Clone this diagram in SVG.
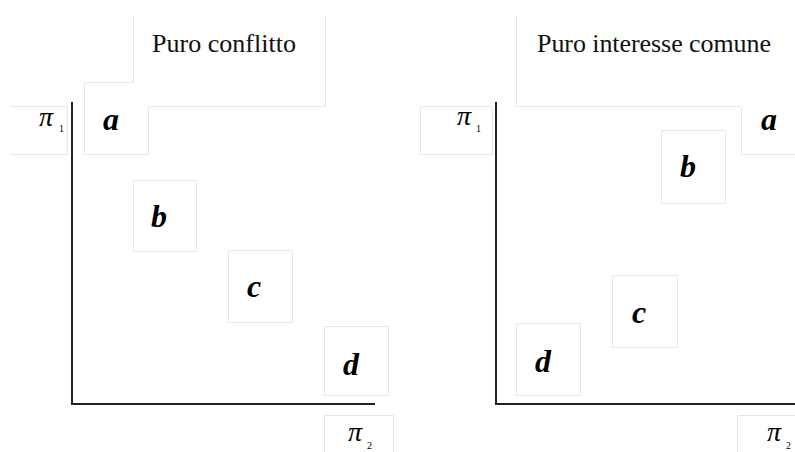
<svg xmlns="http://www.w3.org/2000/svg" width="795" height="452" viewBox="0 0 795 452">
<style>
.frame{fill:none;stroke:#e6e6e6;stroke-width:1}
.axis{fill:none;stroke:#222;stroke-width:2}
.title{font-family:"Liberation Serif","Times New Roman",serif;font-size:26px;fill:#111}
.pt{font-family:"Liberation Serif","Times New Roman",serif;font-size:32px;font-weight:bold;font-style:italic;fill:#000}
.pi{font-family:"Liberation Serif","Times New Roman",serif;font-size:28px;font-style:italic;fill:#000}
.sub{font-family:"Liberation Serif","Times New Roman",serif;font-size:10px;fill:#000}
</style>
<rect width="795" height="452" fill="#fff"/>

<!-- Left chart -->
<g id="title-left">
<path class="frame" d="M133.5,16 V82.5 M148.5,106.5 H325.5 V16"/>
<text class="title" x="152" y="52" textLength="144">Puro conflitto</text>
</g>
<g id="pi1-left">
<path class="frame" d="M10,106.5 H67.5 V154.5 H10"/>
<text class="pi" x="39" y="126">π</text>
<text class="sub" x="59" y="132">1</text>
</g>
<g id="a-left">
<path class="frame" d="M133.5,82.5 H84.5 V154.5 H148.5 V106.5"/>
<text class="pt" x="103" y="130">a</text>
</g>
<g id="b-left">
<rect class="frame" x="133.5" y="180.5" width="63" height="71"/>
<text class="pt" x="151" y="227">b</text>
</g>
<g id="c-left">
<rect class="frame" x="228.5" y="250.5" width="64" height="72"/>
<text class="pt" x="247" y="297">c</text>
</g>
<g id="d-left">
<rect class="frame" x="324.5" y="326.5" width="64" height="69"/>
<text class="pt" x="343" y="375">d</text>
</g>
<g id="pi2-left">
<path class="frame" d="M324.5,452 V415.5 H393.5 V452"/>
<text class="pi" x="348" y="441">π</text>
<text class="sub" x="367" y="449">2</text>
</g>

<!-- Right chart -->
<g id="title-right">
<path class="frame" d="M516.5,16 V106.5 H741.5"/>
<text class="title" x="537" y="52" textLength="234">Puro interesse comune</text>
</g>
<g id="pi1-right">
<rect class="frame" x="420.5" y="106.5" width="72" height="48"/>
<text class="pi" x="457" y="125">π</text>
<text class="sub" x="476" y="132">1</text>
</g>
<g id="a-right">
<path class="frame" d="M741.5,106.5 V154.5 H795"/>
<text class="pt" x="761" y="130">a</text>
</g>
<g id="b-right">
<rect class="frame" x="661.5" y="130.5" width="64" height="73"/>
<text class="pt" x="680" y="177">b</text>
</g>
<g id="c-right">
<rect class="frame" x="612.5" y="275.5" width="65" height="72"/>
<text class="pt" x="632" y="323">c</text>
</g>
<g id="d-right">
<rect class="frame" x="516.5" y="323.5" width="64" height="72"/>
<text class="pt" x="535" y="372">d</text>
</g>
<g id="pi2-right">
<path class="frame" d="M737.5,452 V415.5 H795"/>
<text class="pi" x="767" y="441">π</text>
<text class="sub" x="786" y="449">2</text>
</g>

<g id="connectors">
<path class="axis" d="M72,102 V404 H375"/>
<path class="axis" d="M496,102 V404 H795"/>
</g>
</svg>
